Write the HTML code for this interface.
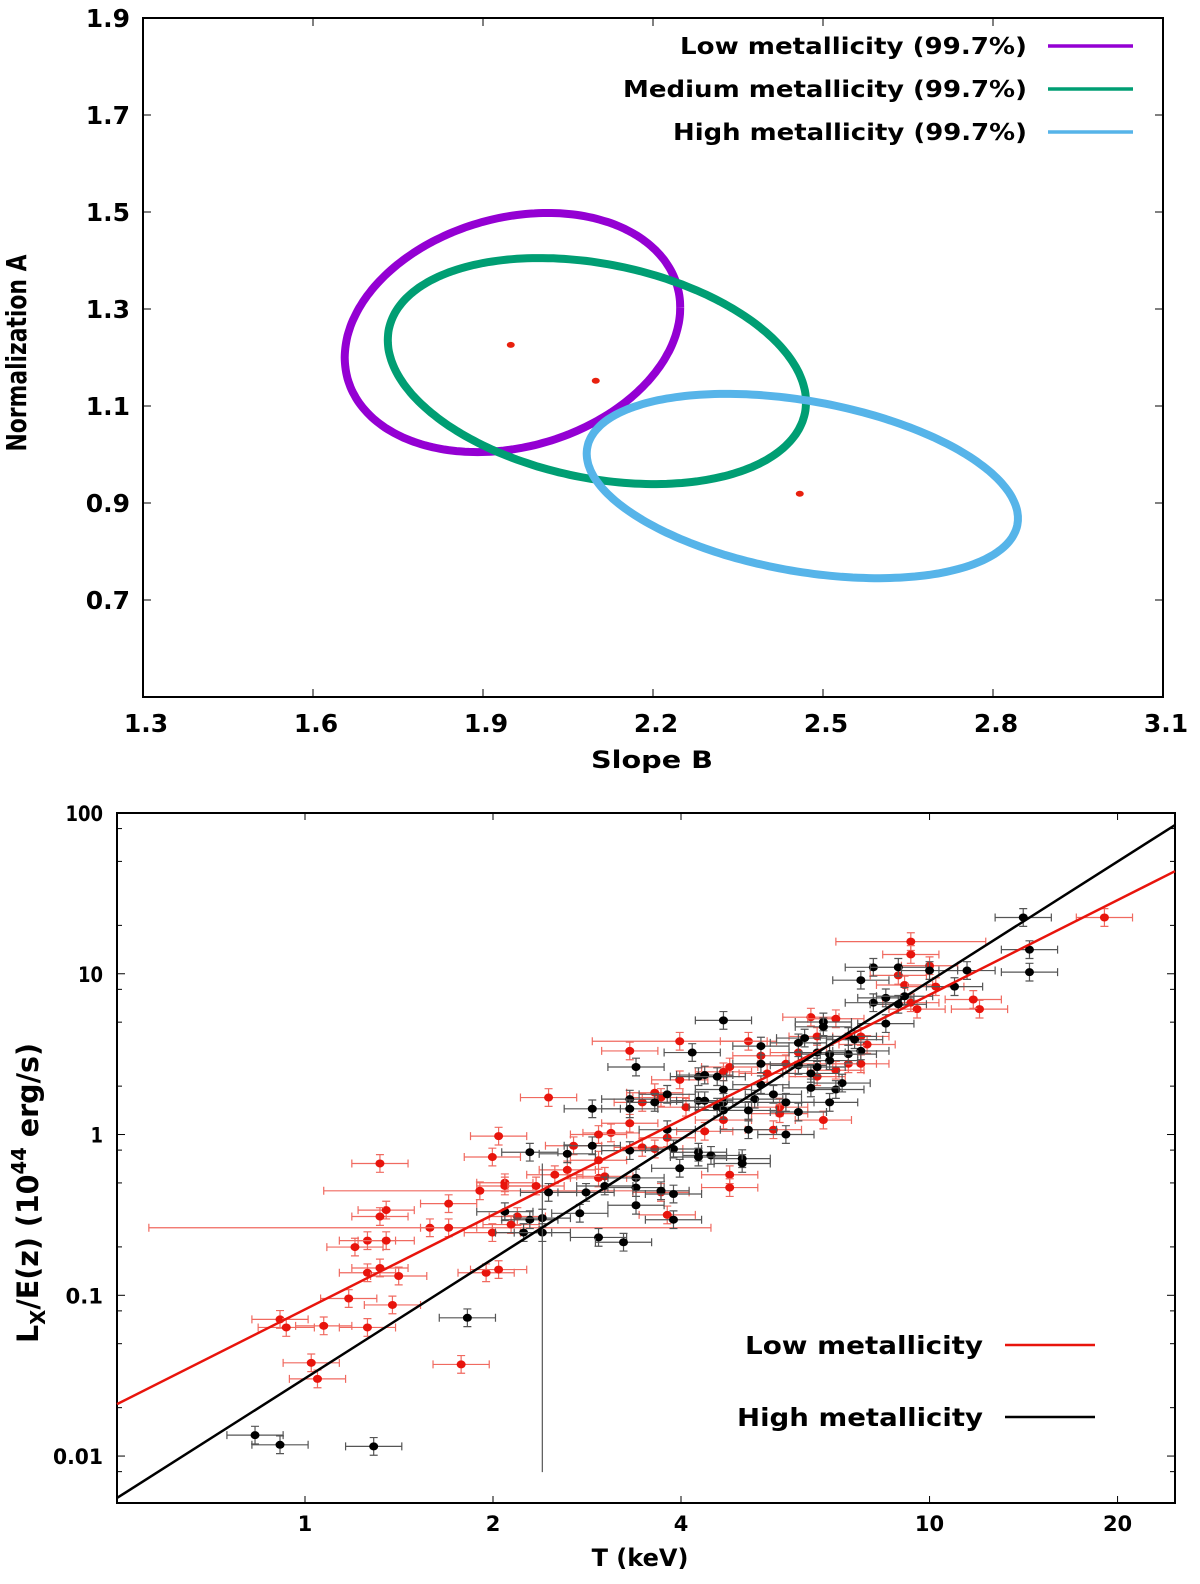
<!DOCTYPE html>
<html><head><meta charset="utf-8"><style>
html,body{margin:0;padding:0;background:#fff}
svg{display:block}
text{font-family:"DejaVu Sans","Liberation Sans",sans-serif;font-weight:bold;fill:#000}
</style></head><body>
<svg id="fig" width="1200" height="1584" viewBox="0 0 1200 1584" xmlns="http://www.w3.org/2000/svg">
<g id="topPanel"></g>
<g id="botPanel"></g>
</svg>
<script>
// ---------- top panel data ----------
const contourNames = ["Low metallicity (99.7%)","Medium metallicity (99.7%)","High metallicity (99.7%)"];
const contourColors = ["#9400d3","#009e73","#56b4e9"];
const centerB = [1.952, 2.101, 2.4635];
const centerA = [1.2515, 1.172, 0.935];
const radiusB = [0.296, 0.369, 0.3805];
const radiusA = [0.2465, 0.233, 0.19];
const phase = [1.36, 1.849, 1.93];
const bestB = [1.949, 2.099, 2.459];
const bestA = [1.226, 1.152, 0.919];
const xTicksTop = [1.3,1.6,1.9,2.2,2.5,2.8,3.1];
const yTicksTop = [0.7,0.9,1.1,1.3,1.5,1.7,1.9];

// ---------- bottom panel data (log10 T keV, log10 Lx 1e44 erg/s) ----------
const lowLogT = [0.39,0.31,0.12,0.30,0.40,0.42,0.32,0.32,0.37,0.28,0.23,0.13,0.12,0.20,0.23,0.34,0.30,0.33,0.10,0.13,0.08,0.10,0.12,0.15,0.29,0.31,0.07,0.14,-0.04,-0.03,0.03,0.10,0.01,0.02,0.25,
0.97,0.97,1.00,0.95,0.96,1.01,1.08,0.98,0.97,0.81,0.85,0.71,0.60,0.52,0.90,0.89,0.82,0.73,0.79,0.77,0.87,0.89,0.85,0.82,0.74,0.68,0.67,0.60,0.56,0.57,0.54,0.61,0.76,0.76,0.83,0.67,0.52,0.49,0.47,0.75,0.64,0.58,0.43,0.54,0.56,0.47,0.47,0.48,0.68,0.68,0.57,0.58,1.28,1.07];
const lowLogL = [0.23,-0.01,-0.18,-0.14,-0.25,-0.22,-0.30,-0.32,-0.32,-0.35,-0.43,-0.47,-0.51,-0.58,-0.58,-0.51,-0.61,-0.56,-0.66,-0.66,-0.70,-0.86,-0.83,-0.88,-0.86,-0.84,-1.02,-1.06,-1.15,-1.20,-1.19,-1.20,-1.42,-1.52,-1.43,
1.20,1.12,1.05,0.99,0.93,0.92,0.78,0.78,0.82,0.73,0.72,0.58,0.58,0.52,0.56,0.61,0.61,0.49,0.51,0.44,0.44,0.44,0.40,0.36,0.38,0.42,0.39,0.34,0.26,0.23,0.20,0.17,0.17,0.13,0.09,0.09,0.07,0.01,0.00,0.03,0.02,-0.02,-0.07,-0.08,-0.09,-0.16,-0.27,-0.26,-0.25,-0.33,-0.36,-0.50,1.35,0.84];
const highLogT = [0.36,0.42,0.39,0.32,0.36,0.38,0.35,0.38,0.26,-0.08,-0.04,0.11,
0.91,0.89,0.95,1.00,1.06,1.04,0.93,0.91,0.96,0.95,0.93,0.67,0.83,0.83,0.80,0.79,0.73,0.62,0.53,0.87,0.88,0.89,0.87,0.82,0.84,0.84,0.79,0.82,0.81,0.73,0.63,0.64,0.66,0.73,0.86,0.85,0.81,0.67,0.58,0.52,0.56,0.52,0.46,0.63,0.64,0.67,0.66,0.67,0.72,0.75,0.77,0.71,0.79,0.84,0.58,0.71,0.77,0.46,0.52,0.59,0.63,0.65,0.63,0.70,0.70,0.60,0.53,0.48,0.53,0.45,0.57,0.59,0.53,0.44,0.47,0.51,0.59,1.15,1.16,1.16];
const highLogL = [-0.11,-0.12,-0.36,-0.48,-0.53,-0.52,-0.61,-0.61,-1.14,-1.87,-1.93,-1.94,
1.04,0.96,1.04,1.02,1.02,0.92,0.85,0.82,0.86,0.81,0.69,0.71,0.70,0.67,0.60,0.57,0.55,0.51,0.42,0.61,0.59,0.52,0.50,0.51,0.50,0.46,0.43,0.42,0.38,0.44,0.36,0.37,0.36,0.31,0.32,0.28,0.29,0.28,0.25,0.22,0.20,0.16,0.16,0.21,0.21,0.20,0.17,0.15,0.22,0.25,0.20,0.15,0.14,0.20,0.03,0.03,0.00,-0.07,-0.10,-0.09,-0.11,-0.13,-0.14,-0.15,-0.18,-0.21,-0.27,-0.32,-0.33,-0.36,-0.35,-0.37,-0.44,-0.49,-0.64,-0.67,-0.53,1.35,1.15,1.01];
const errLogT = 0.045;
const errLogL = 0.055;
const wideLowIdx = [9,13,35,47];
const wideLowErr = [0.25,0.45,0.12,0.14];
const fitIntercept = [-1.088,-1.517];
const fitSlope = [1.957,2.471];
const xTickVals = [1,2,4,10,20];
const yTickVals = [0.01,0.1,1,10,100];
const yTickLabels = ["0.01","0.1","1","10","100"];
const legendWidths = [347,404,354];

const NS="http://www.w3.org/2000/svg";
function mk(parent,tag,attrs,txt){const e=document.createElementNS(NS,tag);for(const k in attrs)e.setAttribute(k,attrs[k]);if(txt!==undefined)e.textContent=txt;parent.appendChild(e);return e;}

(function(){
// ===== TOP =====
const topG=document.getElementById('topPanel');
const TL=143,TR=1163,TT=18,TB=697;
const bx=b=>TL+(b-1.3)/(3.1-1.3)*(TR-TL);
const ay=a=>TT+(1.9-a)/(1.9-0.5)*(TB-TT);
let r=mk(topG,'rect',{x:TL,y:TT,width:TR-TL,height:TB-TT,fill:'none',stroke:'#000','stroke-width':2});


xTicksTop.forEach(v=>{
  const x=bx(v);
  mk(topG,'line',{x1:x,y1:TB,x2:x,y2:TB-8,stroke:'#000','stroke-width':1});
  mk(topG,'line',{x1:x,y1:TT,x2:x,y2:TT+8,stroke:'#000','stroke-width':1});
  const t=mk(topG,'text',{x:x+3,y:TB+35,'font-size':25,'text-anchor':'middle'},v.toFixed(1));
  
  
});
yTicksTop.forEach(v=>{
  const y=ay(v);
  mk(topG,'line',{x1:TL,y1:y,x2:TL+8,y2:y,stroke:'#000','stroke-width':1});
  mk(topG,'line',{x1:TR,y1:y,x2:TR-8,y2:y,stroke:'#000','stroke-width':1});
  const t=mk(topG,'text',{x:130,y:y+9,'font-size':25,'text-anchor':'end'},v.toFixed(1));
  
  
});
contourNames.forEach((n,i)=>{
  let pts=[];
  for(let k=0;k<=240;k++){const t=k/240*2*Math.PI;
    pts.push(bx(centerB[i]+radiusB[i]*Math.cos(t)).toFixed(1)+','+ay(centerA[i]+radiusA[i]*Math.cos(t-phase[i])).toFixed(1));}
  const p=mk(topG,'polyline',{points:pts.join(' '),fill:'none',stroke:contourColors[i],'stroke-width':8});
  
  
  const y=46+i*43;
  const t=mk(topG,'text',{x:1027,y:y+8,'font-size':23,'text-anchor':'end',textLength:legendWidths[i],lengthAdjust:'spacingAndGlyphs'},n);
  
  
  const l=mk(topG,'line',{x1:1048,y1:y,x2:1133,y2:y,stroke:contourColors[i],'stroke-width':3.5});
  
  
});
bestB.forEach((b,i)=>{
  const c=mk(topG,'ellipse',{cx:bx(b),cy:ay(bestA[i]),rx:4,ry:3,fill:'#e8200e'});
  
  
});
let tt=mk(topG,'text',{x:652,y:768,'font-size':24,'text-anchor':'middle',textLength:122,lengthAdjust:'spacingAndGlyphs'},'Slope B');


tt=mk(topG,'text',{x:0,y:0,'font-size':28,'text-anchor':'middle',textLength:197,lengthAdjust:'spacingAndGlyphs',transform:'translate(26,353) rotate(-90)','font-family':'Liberation Sans'},'Normalization A');



// ===== BOTTOM =====
const botG=document.getElementById('botPanel');
const BL=117,BR=1175,BT=813,BB=1503;
const lx0=-0.301,lx1=1.393,ly0=-2.292,ly1=2;
const px=lt=>BL+(lt-lx0)/(lx1-lx0)*(BR-BL);
const py=ll=>BT+(ly1-ll)/(ly1-ly0)*(BB-BT);
r=mk(botG,'rect',{x:BL,y:BT,width:BR-BL,height:BB-BT,fill:'none',stroke:'#000','stroke-width':2});


xTickVals.forEach(v=>{
  const x=px(Math.log10(v));
  mk(botG,'line',{x1:x,y1:BB,x2:x,y2:BB-7,stroke:'#000','stroke-width':1});
  mk(botG,'line',{x1:x,y1:BT,x2:x,y2:BT+7,stroke:'#000','stroke-width':1});
  const t=mk(botG,'text',{x:x,y:BB+28,'font-size':21,'text-anchor':'middle'},String(v));
  
  
});
yTickVals.forEach((v,i)=>{
  const lv=Math.log10(v);const y=py(lv);
  mk(botG,'line',{x1:BL,y1:y,x2:BL+8,y2:y,stroke:'#000','stroke-width':1});
  mk(botG,'line',{x1:BR,y1:y,x2:BR-8,y2:y,stroke:'#000','stroke-width':1});
  [2,5,8].forEach(m=>{const lm=lv-1+Math.log10(m);if(lm>ly0){const ym=py(lm);
    mk(botG,'line',{x1:BL,y1:ym,x2:BL+5,y2:ym,stroke:'#000','stroke-width':1});
    mk(botG,'line',{x1:BR,y1:ym,x2:BR-5,y2:ym,stroke:'#000','stroke-width':1});}});
  const t=mk(botG,'text',{x:103,y:y+8,'font-size':21,'text-anchor':'end',textLength:yTickLabels[i].length*12.5,lengthAdjust:'spacingAndGlyphs'},yTickLabels[i]);
  
  
});
function series(LT,LL,col,ecol,name,wideIdx,wideErr){
  const g=mk(botG,'g',{});
  
  
  LT.forEach((lt,i)=>{
    const ll=LL[i];
    let ex=errLogT;const wi=wideIdx.indexOf(i);if(wi>=0)ex=wideErr[wi];
    const x=px(lt),y=py(ll),xa=px(lt-ex),xb=px(lt+ex),ya=py(ll-errLogL),yb=py(ll+errLogL);
    mk(g,'path',{d:`M${xa},${y}H${xb}M${x},${ya}V${yb}M${xa},${y-4}v8M${xb},${y-4}v8M${x-4},${ya}h8M${x-4},${yb}h8`,stroke:ecol,'stroke-width':1.2,fill:'none'});
    const c=mk(g,'ellipse',{cx:x,cy:y,rx:4.5,ry:4,fill:col});
    
    
  });
  return g;
}
series(lowLogT,lowLogL,'#e8140c','#f06a60','low-metallicity-points',wideLowIdx,wideLowErr);
const hg=series(highLogT,highLogL,'#000','#555','high-metallicity-points',[],[]);
mk(hg,'line',{x1:px(0.38),y1:py(-2.10),x2:px(0.38),y2:py(-0.18),stroke:'#555','stroke-width':1.2});
['#e8140c','#000'].forEach((c,i)=>{
  const l=mk(botG,'line',{x1:px(lx0),y1:py(fitIntercept[i]+fitSlope[i]*lx0),x2:px(lx1),y2:py(fitIntercept[i]+fitSlope[i]*lx1),stroke:c,'stroke-width':2.5});
  
  
});
[['Low metallicity','#e8140c',1345,238],['High metallicity','#000',1417,246]].forEach(d=>{
  const t=mk(botG,'text',{x:983,y:d[2]+9,'font-size':25,'text-anchor':'end',textLength:d[3],lengthAdjust:'spacingAndGlyphs'},d[0]);
  
  
  const l=mk(botG,'line',{x1:1005,y1:d[2],x2:1095,y2:d[2],stroke:d[1],'stroke-width':2.5});
  
  
});
tt=mk(botG,'text',{x:640,y:1566,'font-size':24,'text-anchor':'middle'},'T (keV)');


tt=mk(botG,'text',{x:0,y:0,'font-size':29,'text-anchor':'middle','font-family':'Liberation Sans',textLength:300,lengthAdjust:'spacingAndGlyphs',transform:'translate(38,1193) rotate(-90)'});


mk(tt,'tspan',{},'L');
mk(tt,'tspan',{'font-size':20,dy:7},'X');
mk(tt,'tspan',{dy:-7},'/E(z) (10');
mk(tt,'tspan',{'font-size':20,dy:-12},'44');
mk(tt,'tspan',{dy:12},' erg/s)');
})();
</script>
</body></html>
